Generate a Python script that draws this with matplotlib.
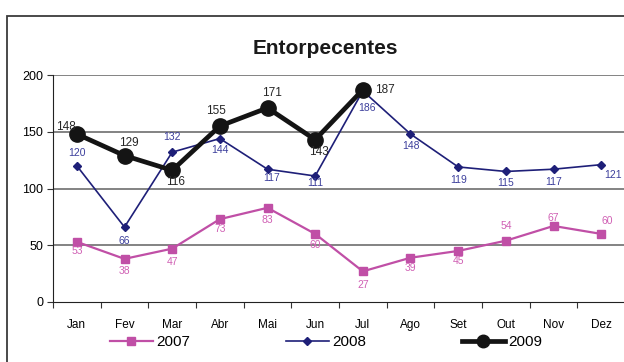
import matplotlib
matplotlib.use("Agg")
import matplotlib.pyplot as plt
from matplotlib.patches import Rectangle

plt.rcParams['font.family'] = ['Liberation Sans', 'DejaVu Sans']

months = ['Jan', 'Fev', 'Mar', 'Abr', 'Mai', 'Jun', 'Jul', 'Ago', 'Set', 'Out', 'Nov', 'Dez']
v2007 = [53, 38, 47, 73, 83, 60, 27, 39, 45, 54, 67, 60]
v2008 = [120, 66, 132, 144, 117, 111, 186, 148, 119, 115, 117, 121]
v2009 = [148, 129, 116, 155, 171, 143, 187]

# label offsets in pixels (dx, dy) for each series
off2007 = [(0, -9), (0, -12), (0, -13), (0, -10), (0, -12), (0, -11), (0, -14),
           (0, -10), (0, -10), (0, 15), (0, 8), (6, 13)]
off2008 = [(0, 13), (0, -14), (0, 15), (0, -11), (4, -9), (0, -7), (4, -17),
           (0, -12), (0, -13), (0, -12), (0, -13), (12, -10)]
off2009 = [(-11, 7), (4, 13), (3, -12), (-4, 15), (4, 15), (4, -12), (22, 0)]

c2007 = '#c04fa6'
c2008 = '#1e1f78'
c2009 = '#141414'

fig = plt.figure(figsize=(6.24, 3.62), dpi=100)
fig.patches.append(Rectangle((7 / 624, -0.2), 1.2, 1.2 - 16 / 362,
                             transform=fig.transFigure, fill=False,
                             edgecolor='#3a3a3a', linewidth=1.3))

ax = fig.add_axes([53 / 624, 1 - 302 / 362, 572 / 624, 227 / 362])
x = list(range(len(months)))

ax.plot(x, v2007, color=c2007, lw=1.6, marker='s', ms=6, label='2007', zorder=3)
ax.plot(x, v2008, color=c2008, lw=1.2, marker='D', ms=4.5, label='2008', zorder=4)
ax.plot(x[:len(v2009)], v2009, color=c2009, lw=3.4, marker='o', ms=11, label='2009', zorder=5)

for xi, v, (dx, dy) in zip(x, v2007, off2007):
    ax.annotate(str(v), (xi, v), xytext=(dx, dy), textcoords='offset pixels',
                ha='center', va='center', fontsize=7.5, color='#d060b4', zorder=6)
for xi, v, (dx, dy) in zip(x, v2008, off2008):
    ax.annotate(str(v), (xi, v), xytext=(dx, dy), textcoords='offset pixels',
                ha='center', va='center', fontsize=7.5, color='#3c3f9c', zorder=6)
for xi, v, (dx, dy) in zip(x, v2009, off2009):
    ax.annotate(str(v), (xi, v), xytext=(dx, dy), textcoords='offset pixels',
                ha='center', va='center', fontsize=8.5, color='#262626', zorder=6)

ax.set_xlim(-0.5, 11.5)
ax.set_ylim(0, 200)
ax.set_yticks([0, 50, 100, 150, 200])
ax.set_xticks([i - 0.5 for i in range(13)])
ax.set_xticklabels([])
ax.set_xticks(x, minor=True)
ax.set_xticklabels(months, minor=True)
ax.tick_params(axis='x', which='major', length=4, direction='out', color='#333333')
ax.tick_params(axis='x', which='minor', length=0, pad=12, labelsize=8.5)
ax.tick_params(axis='y', length=4, direction='out', labelsize=9, pad=3, color='#333333')

for yv in [50, 100, 150, 200]:
    ax.axhline(yv, color='#7a7a7a', lw=1.3, zorder=1)
for s in ['top', 'right']:
    ax.spines[s].set_visible(False)
ax.spines['left'].set_color('#222222')
ax.spines['bottom'].set_color('#222222')

fig.text(325 / 624, 1 - 48 / 362, 'Entorpecentes', ha='center', va='center',
         fontsize=15, fontweight='bold', color='#1a1a1a')

leg = fig.legend(loc='center', bbox_to_anchor=(326 / 624, 1 - 342 / 362), ncol=3,
                 frameon=False, fontsize=11, handlelength=2.8, handletextpad=0.2,
                 columnspacing=6.3, borderpad=0)
leg.legend_handles[2].set_markersize(9)

fig.savefig('out.png', dpi=100)
